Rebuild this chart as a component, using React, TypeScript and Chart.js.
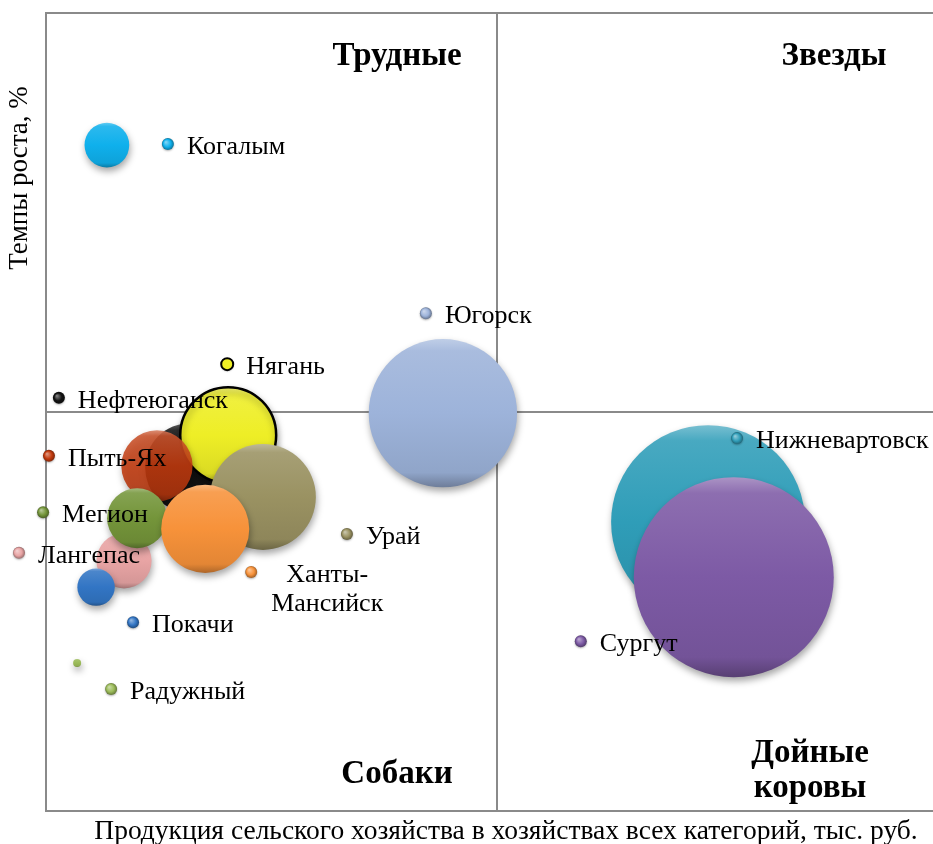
import React, { useEffect, useRef } from "react";
import { Chart, registerables } from "chart.js";

Chart.register(...registerables);

// ---- data ----
const cities = [
  "Когалым",
  "Югорск",
  "Нефтеюганск",
  "Нягань",
  "Урай",
  "Пыть-Ях",
  "Лангепас",
  "Мегион",
  "Ханты-Мансийск",
  "Покачи",
  "Радужный",
  "Нижневартовск",
  "Сургут",
];
// production (relative units, crossing line at 100)
const production = [13.5, 88.0, 31.9, 40.4, 48.1, 24.6, 17.3, 20.2, 35.3, 11.1, 6.9, 146.8, 152.5];
// growth rate, % (crossing line at 100)
const growth = [166.9, 99.7, 86.0, 94.2, 78.7, 86.5, 62.7, 73.4, 70.7, 56.1, 37.1, 72.4, 58.6];
// bubble size (relative)
const bubbleSize = [5.0, 55, 20, 23, 28, 12.7, 7.6, 9, 19.4, 3.5, 0.16, 94, 100];

const xTitle = "Продукция сельского хозяйства в хозяйствах всех категорий, тыс. руб.";
const yTitle = "Темпы роста, %";
const xCross = 100;
const yCross = 100;

// ---- styles ----
const colors = [
  "#0fb0ec",
  "#9db3da",
  "#121212",
  "#eeee26",
  "#9a9262",
  "#c23a0e",
  "#e8a4a4",
  "#74953a",
  "#f7923a",
  "#3275c4",
  "#9bbb59",
  "#2f9db8",
  "#7d5aa5",
];
const alphas = [1, 1, 1, 1, 1, 0.88, 1, 1, 1, 1, 1, 1, 1];
// label marker offset from bubble centre (px)
const labelOffsets: [number, number][] = [
  [61, -1],
  [-17, -100],
  [-131, -70],
  [-1, -71],
  [84, 37],
  [-108, -10],
  [-105, -8],
  [-94, -6],
  [46, 43],
  [37, 35],
  [34, 26],
  [29, -84],
  [-153, 64],
];
const FONT = '"Liberation Serif", "Times New Roman", serif';
const MAX_R = 100;
const maxSize = Math.max(...bubbleSize);
const radius = (i: number) => MAX_R * Math.sqrt(bubbleSize[i] / maxSize);

function hexToRgb(h: string) {
  const n = parseInt(h.slice(1), 16);
  return [(n >> 16) & 255, (n >> 8) & 255, n & 255];
}
function shade(h: string, f: number, a = 1) {
  const [r, g, b] = hexToRgb(h);
  const m = (c: number) =>
    Math.round(f >= 0 ? c + (255 - c) * f : c * (1 + f));
  return `rgba(${m(r)},${m(g)},${m(b)},${a})`;
}

function bubbleFill(ctx: any) {
  const i = ctx.dataIndex;
  const chart = ctx.chart;
  const xs = chart.scales?.x;
  const ys = chart.scales?.y;
  const base = colors[i];
  const a = alphas[i];
  if (!xs || !ys || !chart.chartArea) return shade(base, 0, a);
  const cx = xs.getPixelForValue(production[i]);
  const cy = ys.getPixelForValue(growth[i]);
  const r = radius(i);
  const g = chart.ctx.createLinearGradient(cx, cy - r, cx, cy + r);
  g.addColorStop(0, shade(base, 0.35, a));
  g.addColorStop(0.08, shade(base, 0.12, a));
  g.addColorStop(0.5, shade(base, 0, a));
  g.addColorStop(0.9, shade(base, -0.08, a));
  g.addColorStop(1, shade(base, -0.3, a));
  return g;
}

const framePlugin = {
  id: "frame",
  beforeDatasetsDraw(chart: any) {
    const { ctx, chartArea: a, scales } = chart;
    ctx.save();
    ctx.strokeStyle = "#8a8a8a";
    ctx.lineWidth = 2;
    ctx.beginPath();
    ctx.moveTo(a.right, a.top);
    ctx.lineTo(a.left, a.top);
    ctx.lineTo(a.left, a.bottom);
    ctx.lineTo(a.right, a.bottom);
    const vx = scales.x.getPixelForValue(xCross);
    const hy = scales.y.getPixelForValue(yCross);
    ctx.moveTo(vx, a.top);
    ctx.lineTo(vx, a.bottom);
    ctx.moveTo(a.left, hy);
    ctx.lineTo(a.right, hy);
    ctx.stroke();
    ctx.restore();
    // shadow for bubbles
    ctx.save();
    ctx.shadowColor = "rgba(0,0,0,0.35)";
    ctx.shadowBlur = 7;
    ctx.shadowOffsetX = 1;
    ctx.shadowOffsetY = 4;
  },
  afterDatasetsDraw(chart: any) {
    const { ctx, chartArea: a, scales } = chart;
    ctx.restore();
    const xs = scales.x;
    const ys = scales.y;
    const vx = xs.getPixelForValue(xCross);

    // data labels with legend keys
    cities.forEach((name, i) => {
      const cx = xs.getPixelForValue(production[i]) + labelOffsets[i][0];
      const cy = ys.getPixelForValue(growth[i]) + labelOffsets[i][1];
      const mr = 6;
      ctx.save();
      ctx.shadowColor = "rgba(0,0,0,0.3)";
      ctx.shadowBlur = 2;
      ctx.shadowOffsetY = 1;
      const g = ctx.createRadialGradient(cx - 2, cy - 2, 0.5, cx, cy, mr);
      g.addColorStop(0, shade(colors[i], 0.45));
      g.addColorStop(0.6, colors[i]);
      g.addColorStop(1, shade(colors[i], -0.35));
      ctx.fillStyle = name === "Нягань" ? colors[i] : g;
      ctx.beginPath();
      ctx.arc(cx, cy, mr, 0, Math.PI * 2);
      ctx.fill();
      ctx.restore();
      if (name === "Нягань") {
        ctx.save();
        ctx.strokeStyle = "#000";
        ctx.lineWidth = 2;
        ctx.beginPath();
        ctx.arc(cx, cy, mr, 0, Math.PI * 2);
        ctx.stroke();
        ctx.restore();
      }
      ctx.save();
      ctx.fillStyle = "#000";
      ctx.font = `26px ${FONT}`;
      ctx.textBaseline = "middle";
      if (name === "Ханты-Мансийск") {
        ctx.textAlign = "center";
        ctx.fillText("Ханты-", cx + 76, cy + 3);
        ctx.fillText("Мансийск", cx + 76, cy + 32);
      } else {
        ctx.textAlign = "left";
        ctx.fillText(name, cx + 19, cy + 3);
      }
      ctx.restore();
    });

    // quadrant names
    ctx.save();
    ctx.fillStyle = "#000";
    ctx.font = `bold 33px ${FONT}`;
    ctx.textAlign = "center";
    ctx.textBaseline = "alphabetic";
    ctx.fillText("Трудные", vx - 100, a.top + 52);
    ctx.fillText("Звезды", vx + 337, a.top + 52);
    ctx.fillText("Собаки", vx - 100, a.bottom - 28);
    ctx.fillText("Дойные", vx + 313, a.bottom - 49);
    ctx.fillText("коровы", vx + 313, a.bottom - 14);
    ctx.restore();

    // axis titles
    ctx.save();
    ctx.fillStyle = "#000";
    ctx.font = `27.5px ${FONT}`;
    ctx.textAlign = "center";
    ctx.textBaseline = "middle";
    ctx.fillText(xTitle, vx + 9, a.bottom + 21);
    ctx.font = `27px ${FONT}`;
    ctx.translate(a.left - 26, a.top + 165);
    ctx.rotate(-Math.PI / 2);
    ctx.fillText(yTitle, 0, 0);
    ctx.restore();
  },
};

export default function App() {
  const ref = useRef<HTMLCanvasElement>(null);
  useEffect(() => {
    if (!ref.current) return;
    const chart = new Chart(ref.current, {
      type: "bubble",
      data: {
        datasets: [
          {
            label: "Города",
            data: cities.map((_, i) => ({
              x: production[i],
              y: growth[i],
              r: radius(i),
            })),
            backgroundColor: bubbleFill,
            borderColor: cities.map((c) => (c === "Нягань" ? "#000" : "rgba(0,0,0,0)")),
            borderWidth: cities.map((c) => (c === "Нягань" ? 2.5 : 0)),
            hoverBorderWidth: 0,
            clip: false,
          } as any,
        ],
      },
      options: {
        responsive: false,
        animation: false,
        devicePixelRatio: 1,
        events: [],
        layout: { autoPadding: false, padding: { left: 46, top: 13, right: 12, bottom: 33 } },
        plugins: {
          legend: { display: false },
          tooltip: { enabled: false },
          title: { display: false },
        },
        scales: {
          x: { display: false, min: 0, max: 200 },
          y: { display: false, min: 0, max: 200 },
        },
      },
      plugins: [framePlugin],
    });
    return () => chart.destroy();
  }, []);
  return (
    <div
      style={{
        position: "fixed",
        left: 0,
        top: 0,
        width: 933,
        height: 844,
        overflow: "hidden",
        background: "#fff",
      }}
    >
      <canvas ref={ref} width={960} height={844} style={{ width: 960, height: 844, display: "block" }} />
    </div>
  );
}
